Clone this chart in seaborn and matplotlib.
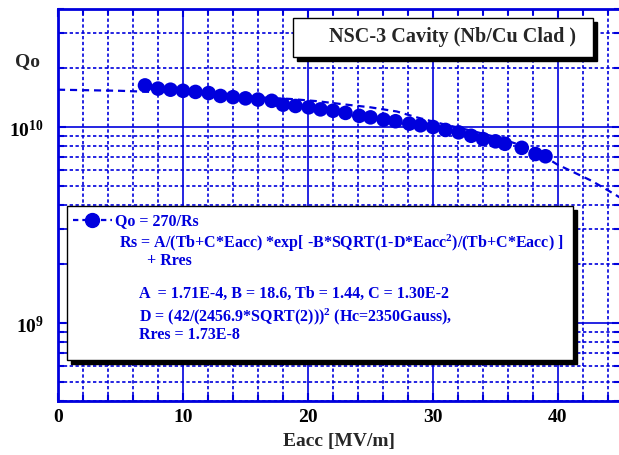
import numpy as np
import pandas as pd
import matplotlib
matplotlib.use('Agg')
import matplotlib.pyplot as plt
import matplotlib.ticker as mticker
from matplotlib.patches import Rectangle
import seaborn as sns

# %% Data
eacc = [6.96, 8.0, 9.0, 10.0, 11.0, 12.05, 13.0, 14.0, 15.0, 16.0, 17.1,
        18.0, 19.0, 20.05, 21.0, 22.0, 23.0, 24.1, 25.0, 26.05, 27.0, 28.1,
        29.0, 30.0, 31.0, 32.05, 33.05, 34.0, 35.0, 35.75, 37.1, 38.2, 39.0]
qo = [1.63e10, 1.57e10, 1.55e10, 1.53e10, 1.51e10, 1.49e10, 1.44e10,
      1.42e10, 1.40e10, 1.38e10, 1.36e10, 1.30e10, 1.28e10, 1.26e10,
      1.23e10, 1.21e10, 1.18e10, 1.14e10, 1.12e10, 1.09e10, 1.07e10,
      1.04e10, 1.02e10, 1.00e10, 9.66e9, 9.39e9, 9.02e9, 8.68e9, 8.45e9,
      8.21e9, 7.83e9, 7.28e9, 7.09e9]

fit_eacc = [0, 5, 10, 14, 18.6, 20.7, 23.1, 25.0, 27.1, 28.7, 30.8, 33.0,
            35.0, 38.0, 39.9, 41.2, 42.7, 44.0, 45.0]
fit_qo = [1.55e10, 1.53e10, 1.49e10, 1.44e10, 1.39e10, 1.355e10, 1.30e10,
          1.26e10, 1.20e10, 1.12e10, 1.035e10, 9.6e9, 8.9e9, 7.7e9, 6.46e9,
          5.90e9, 5.31e9, 4.75e9, 4.35e9]

xticks = [0, 10, 20, 30, 40]
yticks = [1e9, 1e10]
ytick_labels = ['$10^9$', '$10^{10}$']

title_text = 'NSC-3 Cavity (Nb/Cu Clad )'
legend_label = 'Qo = 270/Rs'
formula_lines = [
    'Rs = A/(Tb+C*Eacc) *exp[ -B*SQRT(1-D*Eacc$^2$)/(Tb+C*Eacc) ]',
    '+ Rres',
    'A  = 1.71E-4, B = 18.6, Tb = 1.44, C = 1.30E-2',
    'D = (42/(2456.9*SQRT(2)))$^2$ (Hc=2350Gauss),',
    'Rres = 1.73E-8',
]

blue = '#0000dd'

# %% Style
sns.set_style('ticks')
plt.rcParams['font.family'] = ['Liberation Serif', 'DejaVu Serif']
plt.rcParams['font.weight'] = 'bold'
plt.rcParams['mathtext.fontset'] = 'custom'
plt.rcParams['mathtext.rm'] = 'Liberation Serif:bold'
plt.rcParams['mathtext.bf'] = 'Liberation Serif:bold'
plt.rcParams['mathtext.it'] = 'Liberation Serif:bold'
plt.rcParams['mathtext.default'] = 'rm'

fig = plt.figure(figsize=(6.19, 4.56), dpi=100)
ax_w, ax_h = 562.5, 392
ax = fig.add_axes([58 / 619, 1 - 402 / 456, ax_w / 619, ax_h / 456])

df = pd.DataFrame({'Eacc': eacc, 'Qo': qo})
fit = pd.DataFrame({'Eacc': fit_eacc, 'Qo': fit_qo})

sns.lineplot(data=fit, x='Eacc', y='Qo', ax=ax, color=blue, lw=1.6,
             estimator=None, sort=False, zorder=3)
ax.lines[-1].set_dashes((3.2, 2.2))
sns.scatterplot(data=df, x='Eacc', y='Qo', ax=ax, color=blue, s=110,
                edgecolor='none', zorder=4)

ax.set_yscale('log')
ax.set_xlim(0, 45)
ax.set_ylim(4e8, 4e10)

ax.set_xticks(xticks)
ax.set_xticklabels([str(t) for t in xticks])
ax.xaxis.set_minor_locator(mticker.MultipleLocator(2))
ax.set_yticks(yticks)
ax.set_yticklabels(ytick_labels)
ax.yaxis.set_minor_locator(mticker.LogLocator(base=10, subs=np.arange(2, 10)))
ax.yaxis.set_minor_formatter(mticker.NullFormatter())

ax.grid(which='major', color=blue, lw=1.2, ls='-')
ax.grid(which='minor', color=blue, lw=1.2, ls=(0, (2, 1.5)))
ax.set_axisbelow(True)

ax.tick_params(which='both', direction='in', top=True, right=True, color=blue,
               labelsize=14, labelcolor='black', width=1.5)
ax.tick_params(which='major', length=6)
ax.tick_params(which='minor', length=4)
ax.tick_params(axis='x', pad=5)
ax.tick_params(axis='y', pad=10)
for s in ax.spines.values():
    s.set_color(blue)
    s.set_linewidth(2)

ax.set_xlabel('Eacc [MV/m]', fontsize=14, fontweight='bold', labelpad=5)
ax.set_ylabel('')
fig.text(27 / 619, 1 - 62 / 456, 'Qo', fontsize=14, fontweight='bold',
         ha='center', va='center')


# %% Boxes with a drop shadow
def px2ax(px, py):
    return (px - 58) / ax_w, (402 - py) / ax_h


def shadow_box(left, top, right, bottom):
    x0, y0 = px2ax(left, bottom)
    w = (right - left) / ax_w
    h = (bottom - top) / ax_h
    ax.add_patch(Rectangle((x0 + 4 / ax_w, y0 - 4 / ax_h), w, h,
                           transform=ax.transAxes, facecolor='black',
                           edgecolor='black', zorder=5))
    ax.add_patch(Rectangle((x0, y0), w, h, transform=ax.transAxes,
                           facecolor='white', edgecolor='black', lw=1, zorder=6))


shadow_box(293, 19, 593, 58)
tx, ty = px2ax(453, 37)
ax.text(tx, ty, title_text, transform=ax.transAxes,
        fontsize=14.5, fontweight='bold', ha='center', va='center', zorder=7)

# legend box, its key drawn by hand
shadow_box(67, 207, 573, 361)
lx0, ly = px2ax(73, 221)
lx1, _ = px2ax(112, 221)
lxm, _ = px2ax(92, 221)
ax.plot([lx0, lx1], [ly, ly], transform=ax.transAxes, color=blue, lw=1.6,
        dashes=(2.4, 1.8), zorder=8)
ax.plot([lxm], [ly], transform=ax.transAxes, color=blue, marker='o',
        markersize=10, ls='none', zorder=9)
tx, _ = px2ax(115, 221)
ax.text(tx, ly, legend_label, transform=ax.transAxes, fontsize=11.5,
        fontweight='bold', color=blue, ha='left', va='center', zorder=8)

line_pos = [(119, 243), (147, 261), (139, 294), (139, 317), (139, 335)]
for txt, (px, py) in zip(formula_lines, line_pos):
    tx, ty = px2ax(px, py)
    ax.text(tx, ty, txt, transform=ax.transAxes,
            fontsize=11.5, fontweight='bold', color=blue, ha='left',
            va='center', zorder=8)

fig.savefig('out.png', dpi=100)
